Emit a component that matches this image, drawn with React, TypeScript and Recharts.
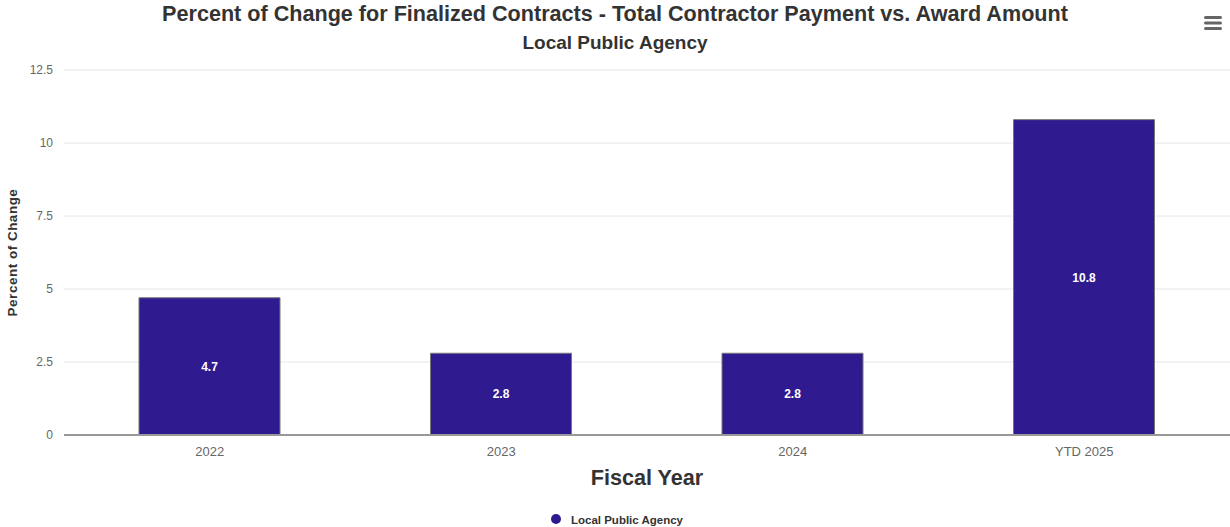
import { BarChart, Bar, XAxis, YAxis, CartesianGrid, Legend, LabelList } from "recharts";

const years = ["2022", "2023", "2024", "YTD 2025"];
const percentChange = [4.7, 2.8, 2.8, 10.8];
const yTicks = [0, 2.5, 5, 7.5, 10, 12.5];

const data = years.map((year, i) => ({ year, value: percentChange[i] }));

const FONT = '"Liberation Sans", Arial, Helvetica, sans-serif';
const BAR_COLOR = "#2f1b8f";

export default function App() {
  return (
    <div style={{ position: "relative", width: 1230, height: 527, fontFamily: FONT, background: "#fff" }}>
      <style>{"body{margin:0}"}</style>
      <div style={{ position: "absolute", top: 1, left: 0, width: 1230, textAlign: "center", fontSize: 21.6, fontWeight: "bold", color: "#333" }}>
        Percent of Change for Finalized Contracts - Total Contractor Payment vs. Award Amount
      </div>
      <div style={{ position: "absolute", top: 32, left: 0, width: 1230, textAlign: "center", fontSize: 19, fontWeight: "bold", color: "#333" }}>
        Local Public Agency
      </div>
      <svg style={{ position: "absolute", left: 1203, top: 15, zIndex: 2 }} width={20} height={16}>
        <rect x={1} y={1} width={18} height={3} rx={1.5} fill="#666" />
        <rect x={1} y={6.5} width={18} height={3} rx={1.5} fill="#666" />
        <rect x={1} y={12} width={18} height={3} rx={1.5} fill="#666" />
      </svg>
      <BarChart
        width={1230}
        height={527}
        data={data}
        margin={{ top: 70, right: 0, left: 0, bottom: 0 }}
        style={{ fontFamily: FONT }}
      >
        <CartesianGrid vertical={false} stroke="#e6e6e6" />
        <XAxis
          dataKey="year"
          height={76}
          axisLine={{ stroke: "#999", strokeWidth: 2 }}
          tickLine={false}
          tick={{ fill: "#666", fontSize: 13 }}
          tickMargin={6}
          label={{ value: "Fiscal Year", position: "insideTop", offset: 35, fill: "#333", fontSize: 21.6, fontWeight: "bold" }}
        />
        <YAxis
          width={64}
          domain={[0, 12.5]}
          ticks={yTicks}
          axisLine={false}
          tickLine={false}
          tickSize={0}
          tickMargin={11}
          tick={{ fill: "#666", fontSize: 12 }}
          label={{ value: "Percent of Change", angle: -90, position: "insideLeft", offset: 12, fill: "#333", fontSize: 13.5, fontWeight: "bold", style: { textAnchor: "middle", letterSpacing: 0.5 } }}
        />
        <Legend
          verticalAlign="bottom"
          align="center"
          iconType="circle"
          iconSize={10}
          height={16}
          wrapperStyle={{ bottom: 0, fontSize: 11.5, fontWeight: "bold", lineHeight: "14px", paddingTop: 0, paddingLeft: 14, boxSizing: "border-box" }}
          formatter={(v) => <span style={{ color: "#333", paddingLeft: 6, position: "relative", top: 2 }}>{v}</span>}
        />
        <Bar
          dataKey="value"
          name="Local Public Agency"
          fill={BAR_COLOR}
          stroke="#777"
          strokeWidth={1}
          barSize={141}
          isAnimationActive={false}
        >
          <LabelList dataKey="value" position="center" fill="#fff" fontSize={12} fontWeight="bold" />
        </Bar>
      </BarChart>
    </div>
  );
}
